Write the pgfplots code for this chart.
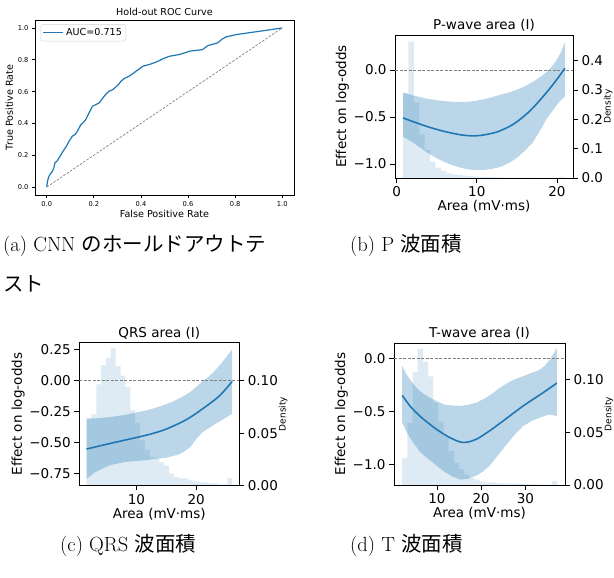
\documentclass[border=0pt]{standalone}
\usepackage{fontspec}
\usepackage{pgfplots}
\pgfplotsset{compat=1.18}
\newfontfamily\djv{DejaVu Sans}
\newfontfamily\jp{Noto Sans CJK JP}
\definecolor{tabblue}{HTML}{1F77B4}
\newcommand\fa{\djv\fontsize{13.5bp}{16bp}\selectfont}
\newcommand\fs{\djv\fontsize{9bp}{11bp}\selectfont}
\newcommand\capf{\fontsize{20.5bp}{24bp}\selectfont}
\pgfplotsset{
  base/.style={scale only axis, axis line style={line width=0.8bp, black},
    every tick/.style={line width=0.8bp, black}, tick align=outside},
  effmain/.style={base, major tick length=5bp, xtick pos=left, ytick pos=left,
    tick label style={font=\fa}, label style={font=\fa},
    title style={font=\fa, yshift=-6bp},
    xlabel={Area (mV·ms)}, ylabel={Effect on log-odds},
    ylabel style={yshift=-2bp}, xlabel style={yshift=3bp}},
  effdens/.style={base, major tick length=5bp, xtick=\empty, ytick pos=right,
    yticklabel pos=right, tick label style={font=\fa}, ymin=0,
    ylabel={Density}, ylabel style={font=\fs, yshift=6bp}},
  band/.style={fill=tabblue, fill opacity=0.3, draw=none},
  bars/.style={ybar interval, fill=tabblue, fill opacity=0.15, draw=none},
  meanl/.style={tabblue, line width=1.6bp, smooth},
  zerol/.style={gray, line width=0.8bp, dash pattern=on 3bp off 1.5bp},
}
\begin{document}
\begin{tikzpicture}[x=1bp,y=1bp]
\useasboundingbox (0,0) rectangle (614,578);

% ---------------- (a) ROC ----------------
\begin{axis}[base, at={(35bp,383bp)}, anchor=south west, width=259bp, height=175bp,
  xmin=-0.05, xmax=1.05, ymin=-0.05, ymax=1.05, major tick length=3bp,
  xtick pos=left, ytick pos=left,
  xtick={0,0.2,0.4,0.6,0.8,1}, xticklabels={0.0,0.2,0.4,0.6,0.8,1.0},
  ytick={0,0.2,0.4,0.6,0.8,1}, yticklabels={0.0,0.2,0.4,0.6,0.8,1.0},
  tick label style={font=\djv\fontsize{6.7bp}{8bp}\selectfont},
  label style={font=\djv\fontsize{9.6bp}{11bp}\selectfont},
  title style={font=\djv\fontsize{9.6bp}{11bp}\selectfont, yshift=-5bp},
  title={Hold-out ROC Curve}, xlabel={False Positive Rate}, ylabel={True Positive Rate},
  xlabel style={yshift=3bp}, ylabel style={yshift=-2bp},
  legend style={at={(0.022,0.975)}, anchor=north west, draw=gray!35, rounded corners=2bp,
    font=\djv\fontsize{9.6bp}{11bp}\selectfont, inner sep=2bp},
  legend image code/.code={\draw[#1] (0bp,0bp) -- (20bp,0bp);},
]
\addplot[tabblue, line width=1.2bp] coordinates {
(0,0) (0.003,0.038) (0.01,0.07) (0.024,0.1) (0.03,0.12) (0.035,0.153) (0.045,0.165) (0.052,0.184)
(0.063,0.21) (0.074,0.236) (0.085,0.26) (0.095,0.289) (0.109,0.32) (0.12,0.33) (0.13,0.351)
(0.145,0.393) (0.155,0.405) (0.166,0.425) (0.18,0.467) (0.194,0.508) (0.209,0.519) (0.223,0.529)
(0.233,0.55) (0.244,0.571) (0.255,0.59) (0.265,0.603) (0.28,0.612) (0.294,0.63) (0.305,0.645)
(0.315,0.665) (0.329,0.682) (0.35,0.697) (0.365,0.712) (0.379,0.728) (0.393,0.742) (0.407,0.759)
(0.435,0.77) (0.464,0.785) (0.492,0.805) (0.521,0.822) (0.563,0.833) (0.59,0.845) (0.606,0.854)
(0.662,0.864) (0.684,0.889) (0.726,0.906) (0.745,0.93) (0.762,0.944) (0.804,0.958) (0.875,0.973)
(0.932,0.985) (1,1)};
\addlegendentry{AUC=0.715}
\addplot[gray, line width=0.7bp, dash pattern=on 2.5bp off 1.5bp, forget plot] coordinates {(0,0) (1,1)};
\end{axis}

% ---------------- (b) P-wave ----------------
\begin{axis}[effdens, at={(395bp,400bp)}, anchor=south west, width=178bp, height=143bp,
  xmin=-0.21, xmax=22.01, ymax=0.488,
  ytick={0,0.1,0.2,0.3,0.4}, yticklabels={0.0,0.1,0.2,0.3,0.4}]
\addplot[bars] coordinates {
(0.8,0.289) (1.473,0.465) (2.147,0.258) (2.82,0.150) (3.493,0.095) (4.167,0.056) (4.84,0.035)
(5.513,0.024) (6.187,0.016) (6.86,0.0125) (7.533,0.010) (8.207,0.008) (8.88,0.006) (9.553,0.005)
(10.227,0.004) (10.9,0.003) (11.573,0.003) (12.247,0.002) (12.92,0.002) (13.593,0.0015)
(14.267,0.0015) (14.94,0.001) (15.613,0.001) (16.287,0.001) (16.96,0.0008) (17.633,0.0008)
(18.307,0.0005) (18.98,0.0005) (19.653,0.0003) (20.327,0.004) (21.0,0.004)};
\end{axis}
\begin{axis}[effmain, at={(395bp,400bp)}, anchor=south west, width=178bp, height=143bp,
  xmin=-0.21, xmax=22.01, ymin=-1.149, ymax=0.372,
  xtick={0,10,20}, xticklabels={0,10,20},
  ytick={-1,-0.5,0}, yticklabels={−1.0,−0.5,0.0}, title={P-wave area (I)}]
\addplot[band] coordinates {
(0.8,-0.24) (2,-0.27) (3,-0.29) (4,-0.31) (5,-0.322) (6,-0.332) (7,-0.338) (8,-0.34) (9,-0.337)
(10,-0.327) (11,-0.31) (12,-0.287) (13,-0.262) (14,-0.24) (15,-0.21) (16,-0.173) (17,-0.128)
(18,-0.07) (18.75,-0.02) (19.5,0.05) (20,0.11) (20.5,0.19) (21,0.295)
(21,-0.284) (20.5,-0.32) (20,-0.37) (19.5,-0.43) (18.75,-0.514) (18,-0.63) (17,-0.77) (16,-0.86)
(15,-0.935) (14,-0.99) (13,-1.03) (12,-1.05) (11,-1.062) (10,-1.065) (9,-1.058) (8,-1.04)
(7,-1.015) (6,-0.98) (5,-0.94) (4,-0.89) (3,-0.83) (2,-0.77) (0.8,-0.71)} -- cycle;
\addplot[zerol] coordinates {(-0.21,0) (22.01,0)};
\addplot[meanl] coordinates {
(0.8,-0.51) (2,-0.548) (4,-0.607) (6,-0.655) (8,-0.69) (9.2,-0.70) (10.4,-0.697) (12.5,-0.66)
(14.6,-0.575) (16.7,-0.43) (18.75,-0.235) (20,-0.1) (21,0.018)};
\end{axis}

% ---------------- (c) QRS ----------------
\begin{axis}[effdens, at={(79.3bp,92.5bp)}, anchor=south west, width=160bp, height=143bp,
  xmin=0.45, xmax=27.2, ymax=0.1366,
  ytick={0,0.05,0.1}, yticklabels={0.00,0.05,0.10}]
\addplot[bars] coordinates {
(1.67,0.064) (2.481,0.068) (3.292,0.0965) (4.103,0.115) (4.914,0.122) (5.725,0.131) (6.536,0.114)
(7.347,0.105) (8.158,0.094) (8.969,0.072) (9.78,0.060) (10.591,0.043) (11.402,0.034) (12.213,0.027)
(13.024,0.026) (13.835,0.022) (14.646,0.019) (15.457,0.011) (16.268,0.008) (17.079,0.0067)
(17.89,0.0067) (18.701,0.005) (19.512,0.004) (20.323,0.003) (21.134,0.003) (21.945,0.002)
(22.756,0.002) (23.567,0.001) (24.378,0.001) (25.189,0.007) (26.0,0.007)};
\end{axis}
\begin{axis}[effmain, at={(79.3bp,92.5bp)}, anchor=south west, width=160bp, height=143bp,
  xmin=0.45, xmax=27.2, ymin=-0.844, ymax=0.309,
  xtick={10,20}, xticklabels={10,20},
  ytick={-0.75,-0.5,-0.25,0,0.25}, yticklabels={−0.75,−0.50,−0.25,0.00,0.25},
  title={QRS area (I)}]
\addplot[band] coordinates {
(1.67,-0.306) (4,-0.3) (6,-0.29) (8,-0.275) (10,-0.255) (12,-0.235) (14,-0.205) (16,-0.17)
(17,-0.145) (18,-0.12) (19,-0.09) (20,-0.05) (21,-0.005) (22,0.03) (23,0.075) (24,0.13) (25,0.19) (26,0.253)
(26,-0.266) (24.5,-0.31) (23.3,-0.344) (22,-0.385) (21,-0.415) (20,-0.47) (19,-0.535) (18,-0.57)
(17,-0.595) (15,-0.62) (11.5,-0.64) (8,-0.655) (5.6,-0.68) (4,-0.715) (3,-0.74) (1.67,-0.79)} -- cycle;
\addplot[zerol] coordinates {(0.45,0) (27.2,0)};
\addplot[meanl] coordinates {
(1.67,-0.55) (5.6,-0.505) (11.5,-0.44) (14.5,-0.398) (17.05,-0.345) (18.7,-0.303) (20.5,-0.245)
(23.8,-0.125) (26,-0.005)};
\end{axis}

% ---------------- (d) T-wave ----------------
\begin{axis}[effdens, at={(394bp,93bp)}, anchor=south west, width=171bp, height=142bp,
  xmin=0.3, xmax=38.95, ymax=0.1346,
  ytick={0,0.05,0.1}, yticklabels={0.00,0.05,0.10}]
\addplot[bars] coordinates {
(2.15,0.0257) (3.318,0.059) (4.487,0.107) (5.655,0.129) (6.823,0.117) (7.992,0.103) (9.16,0.078)
(10.328,0.060) (11.497,0.046) (12.665,0.032) (13.833,0.021) (15.002,0.015) (16.17,0.0098)
(17.338,0.0067) (18.507,0.005) (19.675,0.0035) (20.843,0.0025) (22.012,0.0025) (23.18,0.0016)
(24.348,0.0016) (25.517,0.0012) (26.685,0.0012) (27.853,0.001) (29.022,0.0008) (30.19,0.0008)
(31.358,0.0006) (32.527,0.0005) (33.695,0.0004) (34.863,0.0003) (36.032,0.0038) (37.2,0.0038)};
\end{axis}
\begin{axis}[effmain, at={(394bp,93bp)}, anchor=south west, width=171bp, height=142bp,
  xmin=0.3, xmax=38.95, ymin=-1.19, ymax=0.148,
  xtick={10,20,30}, xticklabels={10,20,30},
  ytick={-1,-0.5,0}, yticklabels={−1.0,−0.5,0.0}, title={T-wave area (I)}]
\addplot[band] coordinates {
(2.15,-0.07) (3,-0.14) (4,-0.2) (5,-0.255) (6,-0.3) (7,-0.33) (8,-0.357) (9,-0.38) (10,-0.40)
(11.5,-0.43) (13,-0.44) (15.3,-0.445) (17,-0.435) (19,-0.413) (21,-0.37) (22.8,-0.32) (24,-0.28)
(25.7,-0.235) (27.5,-0.195) (29.5,-0.165) (31,-0.14) (33,-0.11) (34.3,-0.07) (35.5,-0.01) (36.4,0.05) (37.1,0.10)
(37.1,-0.54) (36,-0.53) (35,-0.53) (33.3,-0.555) (31.5,-0.585) (29.5,-0.634) (27.5,-0.72) (25.7,-0.81)
(23.8,-0.91) (21.9,-1.01) (20.5,-1.06) (19,-1.10) (17.2,-1.13) (15.3,-1.14) (13.5,-1.11) (11.5,-1.06)
(10,-1.01) (9,-0.975) (7.75,-0.934) (7,-0.91) (6,-0.87) (5,-0.81) (4,-0.75) (3,-0.68) (2.15,-0.60)} -- cycle;
\addplot[zerol] coordinates {(0.3,0) (38.95,0)};
\addplot[meanl] coordinates {
(2.15,-0.345) (4,-0.45) (6,-0.535) (8,-0.605) (10,-0.668) (12,-0.722) (14,-0.765) (15.5,-0.787)
(17,-0.785) (19,-0.757) (21.9,-0.68) (25,-0.585) (29.5,-0.445) (34,-0.32) (37.1,-0.23)};
\end{axis}

% ---------------- captions ----------------
\node[anchor=base west, inner sep=0pt, font=\capf] at (3,326) {(a) CNN {\jp のホールドアウトテ}};
\node[anchor=base west, inner sep=0pt, font=\capf] at (3,286) {\jp スト};
\node[anchor=base west, inner sep=0pt, font=\capf] at (350,326) {(b) P {\jp 波面積}};
\node[anchor=base west, inner sep=0pt, font=\capf] at (60,26) {(c) QRS {\jp 波面積}};
\node[anchor=base west, inner sep=0pt, font=\capf] at (350,26) {(d) T {\jp 波面積}};
\end{tikzpicture}
\end{document}
